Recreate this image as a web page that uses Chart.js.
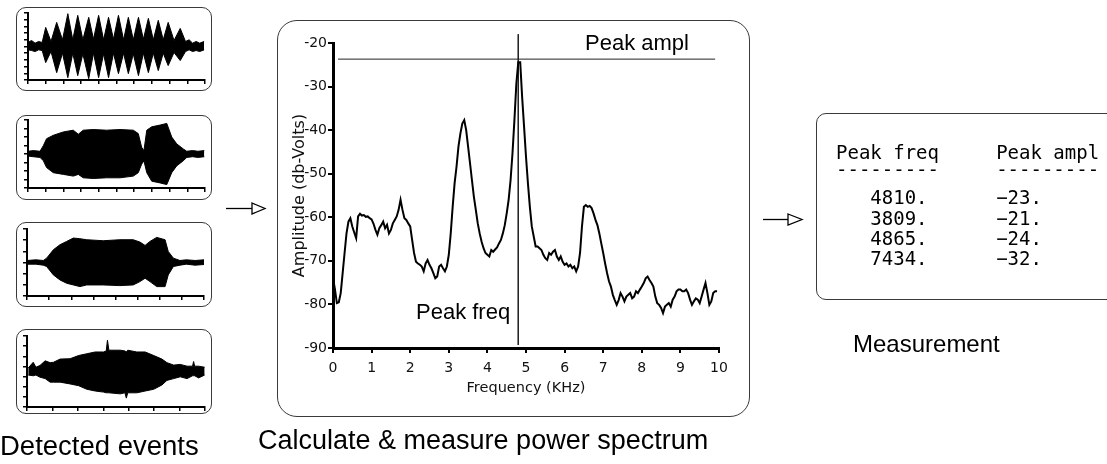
<!DOCTYPE html>
<html><head><meta charset="utf-8">
<script src="https://cdn.jsdelivr.net/npm/chart.js@4.4.1/dist/chart.umd.min.js"></script>
<style>
html,body{margin:0;padding:0;background:#fff;}
body{width:1107px;height:464px;position:relative;overflow:hidden;font-family:"Liberation Sans",Arial,sans-serif;}
.box{position:absolute;border:1px solid #3a3a3a;box-sizing:border-box;}
.abs{position:absolute;white-space:pre;line-height:1;color:#000;}
canvas{position:absolute;}
.mono{font-family:"DejaVu Sans Mono",monospace;font-size:19px;}
</style></head><body>

<div class="box" style="left:16px;top:7px;width:196px;height:84px;border-radius:10px;"></div>
<div class="box" style="left:16px;top:115px;width:196px;height:85px;border-radius:10px;"></div>
<div class="box" style="left:16px;top:222px;width:196px;height:85px;border-radius:10px;"></div>
<div class="box" style="left:16px;top:329px;width:196px;height:85px;border-radius:10px;"></div>
<div class="box" style="left:277px;top:20px;width:473px;height:397px;border-radius:20px;"></div>
<div class="box" style="left:816px;top:113px;width:330px;height:187px;border-radius:10px;"></div>

<canvas id="t1"></canvas><canvas id="t2"></canvas><canvas id="t3"></canvas><canvas id="t4"></canvas>
<canvas id="main"></canvas>

<svg width="1107" height="464" style="position:absolute;left:0;top:0;pointer-events:none">
  <line x1="226" y1="208.5" x2="252" y2="208.5" stroke="#000" stroke-width="1.3"/>
  <polygon points="252,203 265,208.5 252,214" fill="#fff" stroke="#000" stroke-width="1.3"/>
  <line x1="763" y1="219.5" x2="788" y2="219.5" stroke="#000" stroke-width="1.3"/>
  <polygon points="788,214 802,219.5 788,225" fill="#fff" stroke="#000" stroke-width="1.3"/>
</svg>

<div class="abs" style="left:585px;top:32px;font-size:22px;">Peak ampl</div>
<div class="abs" style="left:416px;top:301px;font-size:22px;">Peak freq</div>
<div class="abs" style="left:0px;top:432px;font-size:27.5px;">Detected events</div>
<div class="abs" style="left:258px;top:427px;font-size:27px;">Calculate &amp; measure power spectrum</div>
<div class="abs" style="left:853px;top:332px;font-size:24px;">Measurement</div>
<div id="table"></div>

<script>
// ---- Spectrum data (frequency in kHz, amplitude in dB-Volts) ----
const freqKHz = [0.00,0.05,0.10,0.15,0.20,0.25,0.30,0.35,0.40,0.45,0.50,0.55,0.60,0.65,0.70,0.75,0.80,0.85,0.90,0.95,
1.00,1.05,1.10,1.15,1.20,1.25,1.30,1.35,1.40,1.45,1.50,1.55,1.60,1.65,1.70,1.75,1.80,1.85,1.90,1.95,
2.00,2.05,2.10,2.15,2.20,2.25,2.30,2.35,2.40,2.45,2.50,2.55,2.60,2.65,2.70,2.75,2.80,2.85,2.90,2.95,
3.00,3.05,3.10,3.15,3.20,3.25,3.30,3.35,3.40,3.45,3.50,3.55,3.60,3.65,3.70,3.75,3.80,3.85,3.90,3.95,
4.00,4.05,4.10,4.15,4.20,4.25,4.30,4.35,4.40,4.45,4.50,4.55,4.60,4.65,4.70,4.75,4.80,4.85,4.90,4.95,
5.00,5.05,5.10,5.15,5.20,5.25,5.30,5.35,5.40,5.45,5.50,5.55,5.60,5.65,5.70,5.75,5.80,5.85,5.90,5.95,
6.00,6.05,6.10,6.15,6.20,6.25,6.30,6.35,6.40,6.45,6.50,6.55,6.60,6.65,6.70,6.75,6.80,6.85,6.90,6.95,
7.00,7.05,7.10,7.15,7.20,7.25,7.30,7.35,7.40,7.45,7.50,7.55,7.60,7.65,7.70,7.75,7.80,7.85,7.90,7.95,
8.00,8.05,8.10,8.15,8.20,8.25,8.30,8.35,8.40,8.45,8.50,8.55,8.60,8.65,8.70,8.75,8.80,8.85,8.90,8.95,
9.00,9.05,9.10,9.15,9.20,9.25,9.30,9.35,9.40,9.45,9.50,9.55,9.60,9.65,9.70,9.75,9.80,9.85,9.90,9.95];
const ampDb = [-74,-76.5,-79.7,-79.5,-77.4,-72.8,-68.2,-63.7,-61.0,-60.2,-62.1,-63.5,-64.8,-59.8,-59.2,-59.6,-59.5,-59.9,-59.8,-60.2,
-60.5,-61.5,-62.9,-64.0,-62.5,-61.8,-61.0,-62.5,-61.7,-63.7,-62.9,-61.4,-60.6,-59.8,-58.3,-56.0,-58.3,-60.2,-60.6,-61.4,
-62.1,-65.2,-68.2,-70.2,-70.6,-70.9,-71.3,-72.4,-70.6,-69.8,-70.9,-71.7,-72.8,-74.0,-73.6,-71.3,-70.9,-71.7,-72.4,-71.3,
-68.6,-63.7,-57.6,-52.2,-48.4,-43.8,-40.8,-38.5,-37.7,-40.0,-43.8,-47.6,-51.5,-55.3,-58.3,-61.4,-63.7,-65.6,-67.1,-68.2,
-68.6,-69.0,-67.5,-67.9,-67.4,-66.9,-66.0,-65.2,-63.7,-61.8,-59.1,-56.0,-51.5,-45.3,-37.7,-29.3,-24.4,-24.4,-32.4,-39.2,
-46.1,-52.2,-57.6,-62.1,-64.4,-66.7,-66.7,-67.1,-67.5,-68.6,-69.4,-69.8,-68.2,-68.6,-67.9,-67.5,-69.0,-69.8,-69.0,-70.2,
-70.9,-70.6,-71.3,-70.9,-71.7,-71.3,-72.4,-71.3,-68.2,-62.1,-57.6,-57.2,-57.6,-57.4,-57.9,-59.1,-60.6,-61.8,-63.7,-66.0,
-68.2,-70.6,-72.8,-74.7,-75.9,-77.8,-79.0,-80.1,-79.0,-77.4,-78.2,-79.3,-78.2,-77.8,-77.4,-78.6,-78.2,-77.0,-77.4,-76.6,
-75.9,-75.1,-74.0,-73.6,-74.4,-75.1,-75.9,-78.2,-79.7,-80.1,-80.8,-82.0,-80.5,-80.1,-79.7,-80.5,-78.9,-78.2,-77.0,-76.6,
-76.6,-77.0,-77.0,-76.6,-77.4,-78.9,-80.1,-79.3,-78.6,-78.9,-79.7,-78.2,-76.6,-75.1,-77.4,-80.1,-79.3,-77.4,-77.0,-77.0];
const yTicksDb = [-90,-80,-70,-60,-50,-40,-30,-20];
const xTicksKHz = [0,1,2,3,4,5,6,7,8,9,10];
const peakFreqKHz = 4.8;
const peakAmplDb = -23.7;
const peakAmplSpan = [0.13, 9.9];
const peakFreqSpan = [-18, -89.3];

// ---- Measurement table ----
const tableFreqs = [4810, 3809, 4865, 7434];
const tableAmpls = [-23, -21, -24, -32];

// ---- Detected events: waveform envelopes (time 0-10, normalized amplitude) ----
const t1X = [0,0.2,0.4,0.6,0.8,1.0,1.3,1.62,1.95,2.25,2.53,2.81,3.1,3.43,3.7,3.99,4.27,4.55,4.83,5.11,5.4,5.67,5.95,6.24,6.52,6.8,7.08,7.36,7.64,7.92,8.25,8.6,8.9,9.1,9.3,9.5,9.7,9.95];
const t1Up = [.12,.18,.1,.15,.12,.57,.15,.72,.2,.98,.2,.93,.2,.87,.22,.93,.2,.87,.22,.93,.2,.87,.2,.87,.22,.84,.2,.78,.2,.72,.18,.54,.15,.2,.1,.15,.1,.15];
const t1Lo = [.1,.12,.15,.1,.12,.48,.15,.78,.2,.93,.2,.87,.22,.96,.2,.93,.22,.93,.2,.81,.2,.81,.22,.87,.2,.78,.2,.72,.2,.57,.18,.42,.15,.1,.15,.12,.15,.1];

const t2X = [0,0.3,0.68,0.87,1.05,1.43,2.0,2.56,2.84,3.12,3.69,4.44,5.2,5.95,6.23,6.42,6.55,6.71,6.99,7.46,7.84,8.12,8.4,8.77,8.97,9.3,9.6,9.96];
const t2Up = [.08,.1,.08,.25,.45,.55,.65,.7,.58,.7,.72,.7,.72,.7,.6,.2,.1,.7,.8,.85,.9,.5,.3,.15,.08,.1,.08,.1];
const t2Lo = [.06,.08,.1,.2,.4,.55,.6,.65,.6,.7,.72,.7,.7,.65,.55,.3,.2,.55,.8,.85,.9,.55,.35,.2,.1,.08,.1,.08];

const t3X = [0,0.5,0.92,1.11,1.49,1.86,2.24,2.62,2.99,3.37,4.31,5.25,6.0,6.38,6.67,6.95,7.33,7.8,7.98,8.27,8.64,9.0,9.5,10];
const t3Up = [.06,.08,.06,.13,.38,.53,.63,.73,.71,.68,.65,.68,.68,.61,.51,.63,.75,.68,.33,.13,.06,.08,.06,.08];
const t3Lo = [.05,.05,.08,.12,.37,.52,.62,.67,.72,.67,.67,.69,.67,.57,.47,.57,.72,.72,.37,.12,.08,.05,.08,.06];

const t4X = [0.07,0.35,0.5,0.73,1.02,1.3,1.49,1.86,2.42,2.9,3.36,3.83,4.3,4.45,4.52,4.6,5.24,5.5,5.58,5.66,6.17,6.64,7.12,7.58,7.86,8.24,8.61,8.99,9.3,9.36,9.42,9.64,9.98];
const t4Up = [.1,.26,.12,.17,.3,.25,.26,.35,.36,.45,.5,.55,.55,.58,.88,.6,.6,.58,.55,.6,.55,.55,.45,.35,.25,.18,.2,.15,.15,.28,.15,.15,.12];
const t4Lo = [.1,.12,.1,.16,.2,.3,.3,.3,.35,.4,.5,.55,.58,.6,.6,.6,.63,.6,.75,.6,.6,.55,.5,.38,.25,.2,.15,.2,.12,.12,.12,.18,.1];

// ---- table text ----
(function(){
  const pad = (s, n) => s.padStart(n, ' ');
  const lines = [
    {t:'Peak freq     Peak ampl', top:143},
    {t:'---------     ---------', top:160}
  ];
  const tops = [188, 209, 229, 249];
  tableFreqs.forEach((f, i) => {
    const a = tableAmpls[i];
    const as = (a < 0 ? '\u2212' : '') + Math.abs(a) + '.';
    lines.push({t: pad(f + '.', 8) + '      ' + as, top: tops[i]});
  });
  const host = document.getElementById('table');
  lines.forEach(l => {
    const d = document.createElement('div');
    d.className = 'abs mono';
    d.style.left = '836px';
    d.style.top = l.top + 'px';
    d.textContent = l.t;
    host.appendChild(d);
  });
})();

Chart.defaults.animation = false;
Chart.defaults.font.family = '"DejaVu Sans", sans-serif';
Chart.defaults.color = '#111';

function placeCanvas(id, r) {
  const c = document.getElementById(id);
  c.width = r.w; c.height = r.h;
  c.style.left = r.x + 'px'; c.style.top = r.y + 'px';
  c.style.width = r.w + 'px'; c.style.height = r.h + 'px';
  return c;
}
function evenTicks(n) {
  return function(scale) {
    const out = [];
    for (let i = 0; i <= n; i++) out.push({value: scale.min + (scale.max - scale.min) * i / n});
    scale.ticks = out;
  };
}

function thumb(id, xs, up, lo, canvasR, area, xn, yn) {
  const c = placeCanvas(id, canvasR);
  const upPts = xs.map((x, i) => ({x: x, y: up[i]}));
  const loPts = xs.map((x, i) => ({x: x, y: -lo[i]}));
  const yW = area.l - canvasR.x;
  const xH = (canvasR.y + canvasR.h) - area.b;
  new Chart(c, {
    type: 'line',
    data: {datasets: [
      {data: upPts, borderColor: '#000', backgroundColor: '#000', borderWidth: 1, pointRadius: 0, fill: false, tension: 0},
      {data: loPts, borderColor: '#000', backgroundColor: '#000', borderWidth: 1, pointRadius: 0, fill: '-1', tension: 0}
    ]},
    options: {
      responsive: false, animation: false, devicePixelRatio: 1,
      layout: {padding: {left: 0, bottom: 0, top: area.t - canvasR.y, right: (canvasR.x + canvasR.w) - area.r}},
      plugins: {legend: {display: false}, tooltip: {enabled: false}},
      scales: {
        x: {type: 'linear', min: 0, max: 10,
            afterBuildTicks: evenTicks(xn),
            afterFit: s => { s.height = xH; },
            ticks: {display: false},
            grid: {display: true, drawOnChartArea: false, drawTicks: true, tickLength: 4, color: '#000', lineWidth: 1.5},
            border: {display: true, color: '#000', width: 2}},
        y: {type: 'linear', min: -1, max: 1,
            afterBuildTicks: evenTicks(yn),
            afterFit: s => { s.width = yW; },
            ticks: {display: false},
            grid: {display: true, drawOnChartArea: false, drawTicks: true, tickLength: 4, color: '#000', lineWidth: 1.5},
            border: {display: true, color: '#000', width: 2}}
      }
    }
  });
}

thumb('t1', t1X, t1Up, t1Lo, {x:17, y:8, w:194, h:82}, {l:28, t:13, r:205, b:80}, 10, 10);
thumb('t2', t2X, t2Up, t2Lo, {x:17, y:116, w:194, h:83}, {l:28, t:120, r:205, b:188}, 10, 8);
thumb('t3', t3X, t3Up, t3Lo, {x:17, y:223, w:194, h:83}, {l:27, t:229, r:204, b:296}, 8, 6);
thumb('t4', t4X, t4Up, t4Lo, {x:17, y:330, w:194, h:83}, {l:27, t:336, r:205, b:407}, 7, 7);

// ---- main spectrum chart ----
(function(){
  const cR = {x:278, y:21, w:471, h:395};
  const area = {l:333, t:43, r:719, b:348};
  const c = placeCanvas('main', cR);
  const spec = freqKHz.map((f, i) => ({x: f, y: ampDb[i]}));
  new Chart(c, {
    type: 'line',
    data: {datasets: [
      {data: spec, borderColor: '#000', borderWidth: 2, pointRadius: 0, fill: false, tension: 0},
      {data: [{x: peakAmplSpan[0], y: peakAmplDb}, {x: peakAmplSpan[1], y: peakAmplDb}], borderColor: '#222', borderWidth: 1, pointRadius: 0, clip: false},
      {data: [{x: peakFreqKHz, y: peakFreqSpan[0]}, {x: peakFreqKHz, y: peakFreqSpan[1]}], borderColor: '#222', borderWidth: 1, pointRadius: 0, clip: false}
    ]},
    options: {
      responsive: false, animation: false, devicePixelRatio: 1,
      layout: {padding: {left: 0, bottom: 0, top: area.t - cR.y, right: (cR.x + cR.w) - area.r}},
      plugins: {legend: {display: false}, tooltip: {enabled: false}},
      scales: {
        x: {type: 'linear', min: 0, max: 10,
            afterBuildTicks: s => { s.ticks = xTicksKHz.map(v => ({value: v})); },
            afterFit: s => { s.height = (cR.y + cR.h) - area.b; },
            ticks: {padding: 7, font: {size: 14}, color: '#111', maxRotation: 0},
            grid: {display: true, drawOnChartArea: false, drawTicks: true, tickLength: 5, color: '#000', lineWidth: 2},
            border: {display: true, color: '#000', width: 3},
            title: {display: true, text: 'Frequency (KHz)', font: {size: 14.5}, color: '#111', padding: {top: 0, bottom: 19}}},
        y: {type: 'linear', min: -90, max: -20,
            afterBuildTicks: s => { s.ticks = yTicksDb.map(v => ({value: v})); },
            afterFit: s => { s.width = area.l - cR.x; },
            ticks: {padding: 1, font: {size: 14}, color: '#111'},
            grid: {display: true, drawOnChartArea: false, drawTicks: true, tickLength: 5, color: '#000', lineWidth: 2},
            border: {display: true, color: '#000', width: 3},
            title: {display: true, text: 'Amplitude (db-Volts)', font: {size: 16}, color: '#111', padding: {top: 12, bottom: 0}}}
      }
    }
  });
})();
</script>
</body></html>
